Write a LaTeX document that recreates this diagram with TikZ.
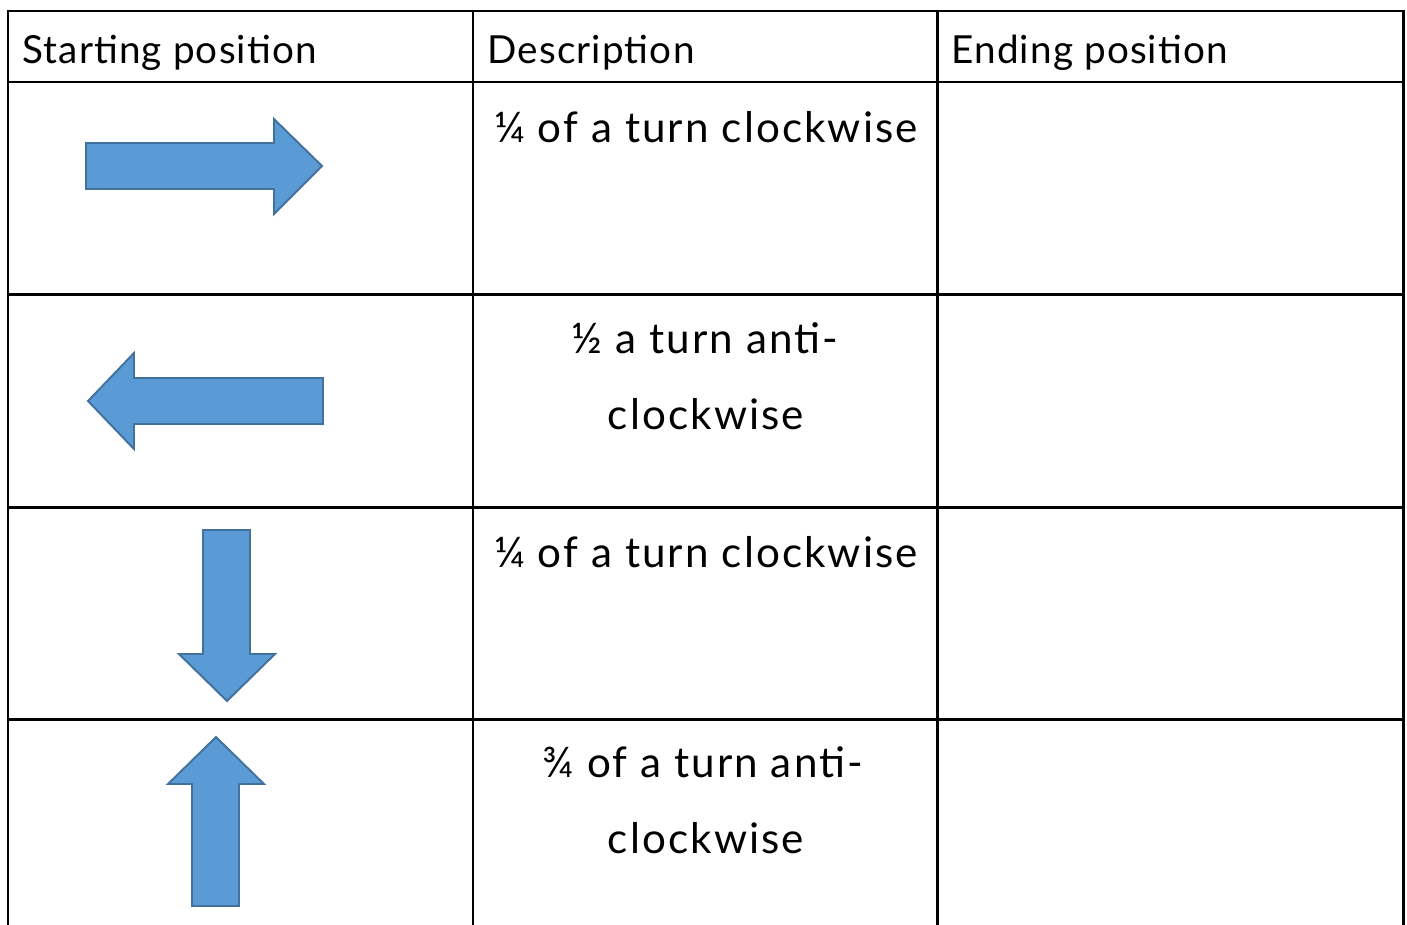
\documentclass[tikz,border=0pt]{standalone}
\usepackage{fontspec}
\setmainfont{Lato}
\usepackage{tikz}
\usetikzlibrary{positioning}
\definecolor{arrowblue}{HTML}{5B9BD5}
\definecolor{arrowedge}{HTML}{41719C}
\tikzset{
  gridline/.style={line width=1.7pt, line cap=rect},
  blockarrow/.style={fill=arrowblue, draw=arrowedge, line width=1.1pt, line join=miter},
  headtext/.style={anchor=base west, inner sep=0pt,
    font=\fontsize{22}{26}\selectfont\addfontfeatures{LetterSpace=3}},
  desctext/.style={anchor=base, inner sep=0pt,
    font=\fontsize{24}{28}\selectfont\addfontfeatures{LetterSpace=5}}
}

\begin{document}
\begin{tikzpicture}[x=0.02cm, y=-0.02cm]
    \useasboundingbox (0, 0) rectangle (1407, 924);

    % Draw the grid.
    \foreach \gx in {8, 473, 937, 1403}
      \draw[gridline] (\gx, 11) -- (\gx, 924);
    \foreach \gy in {11, 82, 294, 507, 719}
      \draw[gridline] (8, \gy) -- (1403, \gy);

    % Write the header row.
    \node[headtext] (hstart) at (22, 63) {Starting position};
    \node[headtext] (hdesc) at (487, 63) {Description};
    \node[headtext] (hend) at (951, 63) {Ending position};

    % Draw the starting arrows.
    \draw[blockarrow] (86, 143) -- (274, 143) -- (274, 119) -- (322, 166)
      -- (274, 214) -- (274, 189) -- (86, 189) -- cycle;
    \draw[blockarrow] (323, 378) -- (134, 378) -- (134, 353) -- (88, 401)
      -- (134, 449) -- (134, 424) -- (323, 424) -- cycle;
    \draw[blockarrow] (203, 530) -- (250, 530) -- (250, 654) -- (275, 654)
      -- (227, 701) -- (179, 654) -- (203, 654) -- cycle;
    \draw[blockarrow] (192, 906) -- (192, 784) -- (168, 784) -- (216, 737)
      -- (264, 784) -- (239, 784) -- (239, 906) -- cycle;

    % Write the descriptions.
    \node[desctext] (dquarter) at (706, 142) {¼ of a turn clockwise};
    \node[desctext] (dhalfa) at (705, 353) {½ a turn anti-};
    \node[desctext] (dhalfb) at (706, 429) {clockwise};
    \node[desctext] (dquarterb) at (706, 567) {¼ of a turn clockwise};
    \node[desctext] (dthreea) at (703, 777) {¾ of a turn anti-};
    \node[desctext] (dthreeb) at (706, 853) {clockwise};
  \end{tikzpicture}
\end{document}
